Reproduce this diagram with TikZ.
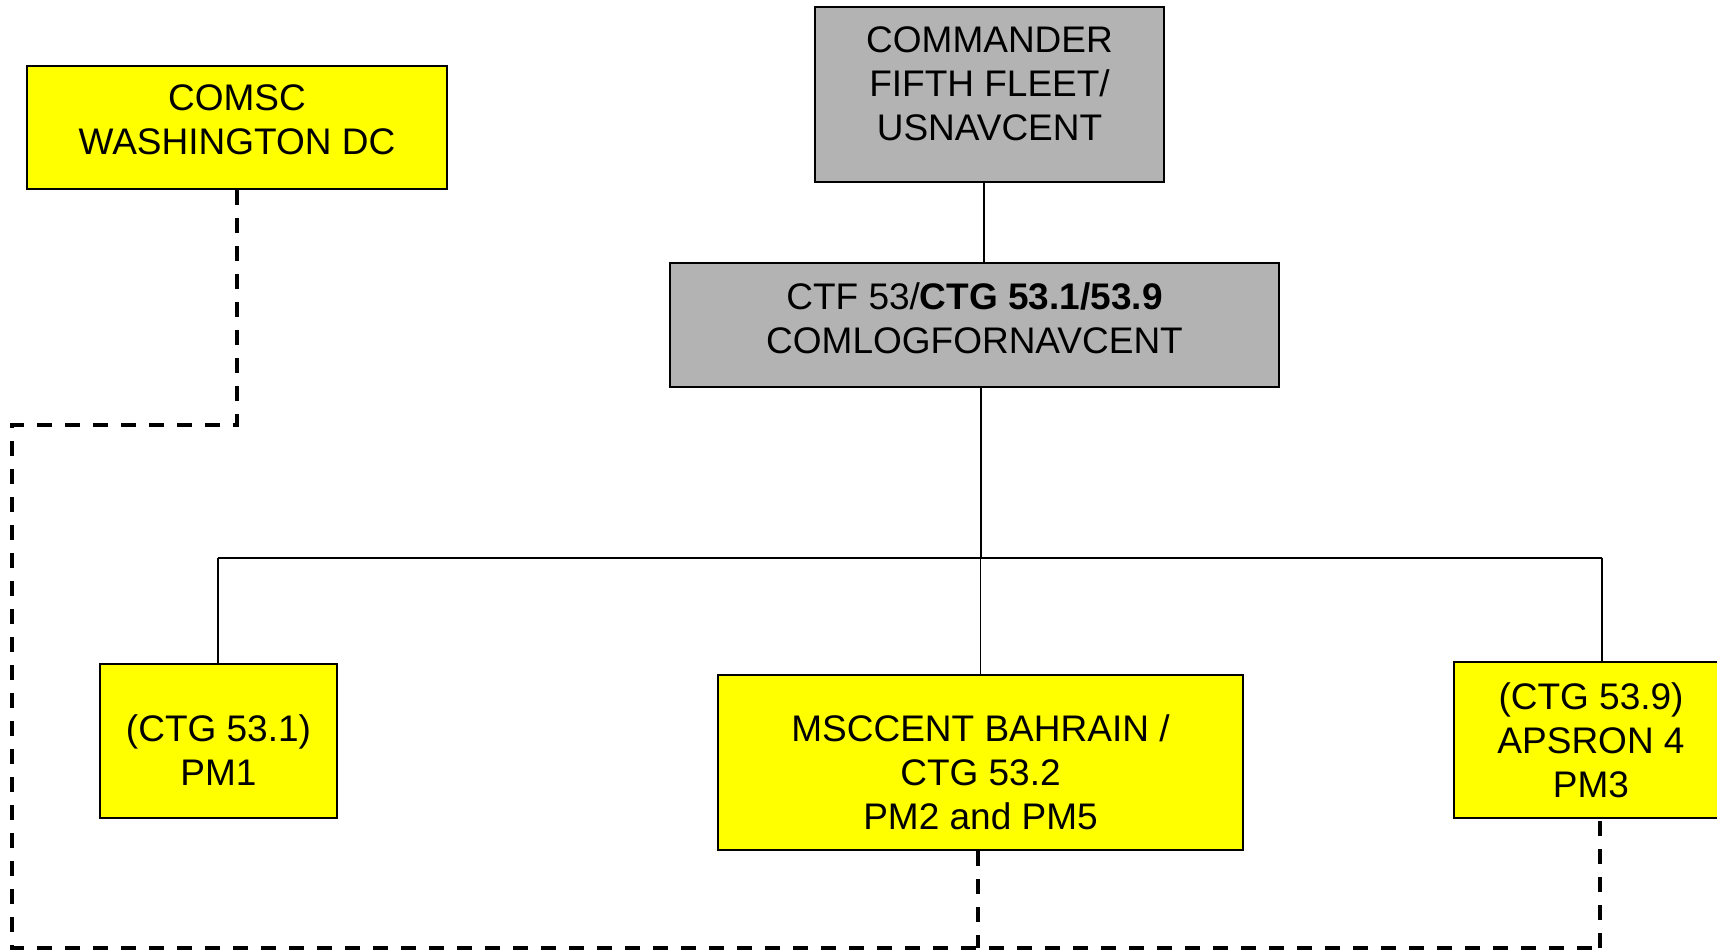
\documentclass[tikz,border=0pt]{standalone}
\usepackage{fontspec}
\setmainfont{Liberation Sans}
\usetikzlibrary{calc}

\definecolor{boxyellow}{HTML}{FFFF00}
\definecolor{boxgray}{HTML}{B3B3B3}

\tikzset{
  unitbox/.style={draw=black, line width=1pt, align=center, inner sep=0pt,
    font=\fontsize{18.5}{22}\selectfont},
  yellowbox/.style={unitbox, fill=boxyellow},
  graybox/.style={unitbox, fill=boxgray},
  textpos/.style={text height=#1, text depth=0.2pt},
  cmdline/.style={line width=0.75pt},
  dashline/.style={line width=1.8pt, dash pattern=on 7.5pt off 6.5pt}
}

\begin{document}
\begin{tikzpicture}[x=0.5pt, y=-0.5pt]

\useasboundingbox (0,0) rectangle (1717,952);
\clip (0,0) rectangle (1717,952);

% Headquarters
\node[yellowbox, textpos=27.5pt, minimum width=210pt, minimum height=61.5pt] (comsc) at (237,127.5) {COMSC\\WASHINGTON DC};
\node[graybox, textpos=46.5pt, minimum width=174.5pt, minimum height=87.5pt] (cmd) at (989.5,94.5) {COMMANDER\\FIFTH FLEET/\\USNAVCENT};
\node[graybox, textpos=28.5pt, minimum width=304.5pt, minimum height=62pt] (ctf) at (974.5,325) {CTF 53/\textbf{CTG 53.1/53.9}\\COMLOGFORNAVCENT};

% Task groups
\node[yellowbox, textpos=44.5pt, minimum width=118.5pt, minimum height=77pt] (pm1) at (218.5,741) {(CTG 53.1)\\PM1};
\node[yellowbox, textpos=67.5pt, minimum width=262.5pt, minimum height=87.5pt] (msc) at (980.5,762.5) {MSCCENT BAHRAIN /\\CTG 53.2\\PM2 and PM5};
\node[yellowbox, textpos=57.5pt, minimum width=137pt, minimum height=78pt] (aps) at (1591,740) {(CTG 53.9)\\APSRON 4\\PM3};

% Command lines
\coordinate (busL) at (218,558);
\coordinate (busR) at (1602,558);
\draw[cmdline] ([xshift=-2.75pt]cmd.south) -- ([xshift=-2.75pt]cmd.south |- ctf.north);
\draw[cmdline] ([xshift=3.25pt]ctf.south) -- ([xshift=3.25pt]ctf.south |- busL);
\draw[cmdline] (busL) -- (busR);
\draw[cmdline] (busL) -- (busL |- pm1.north);
\draw[cmdline] (msc.north |- busL) -- (msc.north);
\draw[cmdline] (busR) -- (busR |- aps.north);

% Coordination lines
\coordinate (dTop) at (12,425);
\coordinate (dBot) at (12,948);
\coordinate (dEnd) at (1600,948);
\draw[dashline] (comsc.south) |- (dTop) -- (dBot) -- (dEnd);
\draw[dashline] ([xshift=-1.25pt]msc.south) -- ([xshift=-1.25pt]msc.south |- dBot);
\draw[dashline] (dEnd) -- (dEnd |- aps.south);

\end{tikzpicture}
\end{document}
